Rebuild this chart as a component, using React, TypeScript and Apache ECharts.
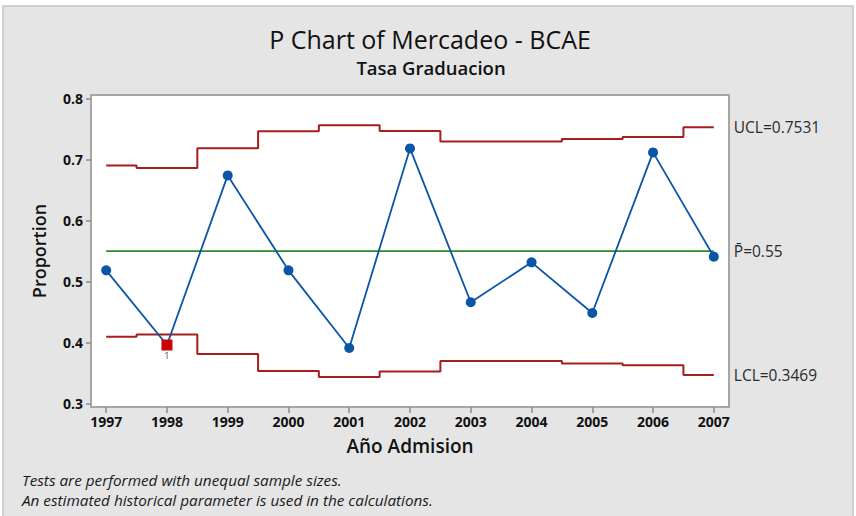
import React, { useEffect, useRef } from "react";
import * as echarts from "echarts";

const years = [1997, 1998, 1999, 2000, 2001, 2002, 2003, 2004, 2005, 2006, 2007];
const proportions = [0.5185, 0.396, 0.6743, 0.5185, 0.3911, 0.7185, 0.4661, 0.5316, 0.4485, 0.712, 0.541];
const ucl = [0.6904, 0.6866, 0.7189, 0.7467, 0.7566, 0.7473, 0.7301, 0.7301, 0.7342, 0.7372, 0.7531];
const lcl = [0.4096, 0.4134, 0.3811, 0.3533, 0.3434, 0.3527, 0.3699, 0.3699, 0.3658, 0.3628, 0.3469];
const centerP = 0.55;
const yTicks = [0.3, 0.4, 0.5, 0.6, 0.7, 0.8];
const flagged = [1998];

const title = "P Chart of Mercadeo - BCAE";
const subtitle = "Tasa Graduacion";
const xName = "Año Admision";
const yName = "Proportion";
const notes = [
  "Tests are performed with unequal sample sizes.",
  "An estimated historical parameter is used in the calculations.",
];

const FONT = "'Open Sans', 'Noto Sans', sans-serif";

export default function App() {
  const ref = useRef<HTMLDivElement>(null);
  useEffect(() => {
    if (!ref.current) return;
    const chart = echarts.init(ref.current, null, { renderer: "svg" });
    const red = "#a51d1d";
    const stepSeries = (name: string, vals: number[], label: string) => ({
      name,
      type: "line",
      step: "middle",
      symbol: "none",
      data: years.map((y, i) => [y, vals[i]]),
      lineStyle: { color: red, width: 2 },
      z: 3,
      endLabel: {
        show: true,
        formatter: label,
        distance: 20,
        color: "#2b2b2b",
        fontSize: 15.5,
        fontFamily: FONT,
      },
    });
    chart.setOption({
      animation: false,
      backgroundColor: "#ffffff",
      textStyle: { fontFamily: FONT },
      grid: {
        left: 91,
        right: 127,
        top: 95,
        bottom: 109,
        show: true,
        backgroundColor: "#ffffff",
        borderColor: "#a6a6a6",
        borderWidth: 2,
      },
      xAxis: {
        type: "value",
        min: 1996.75,
        max: 2007.25,
        splitLine: { show: false },
        axisLine: { show: false },
        axisTick: {
          show: true,
          length: 6,
          customValues: years,
          lineStyle: { color: "#8c8c8c", width: 1.5 },
        },
        axisLabel: {
          customValues: years,
          formatter: (v: number) => String(v),
          color: "#111",
          fontSize: 14,
          fontWeight: "bold",
          fontFamily: FONT,
          margin: 7,
        },
      },
      yAxis: {
        type: "value",
        min: 0.2943,
        max: 0.8062,
        splitLine: { show: false },
        axisLine: { show: false },
        axisTick: {
          show: true,
          length: 5,
          customValues: yTicks,
          lineStyle: { color: "#8c8c8c", width: 1.5 },
        },
        axisLabel: {
          customValues: yTicks,
          formatter: (v: number) => v.toFixed(1),
          color: "#111",
          fontSize: 14,
          fontWeight: "bold",
          fontFamily: FONT,
          margin: 8,
        },
      },
      graphic: [
        {
          type: "rect",
          z: -10,
          shape: { x: 3, y: 6, width: 850, height: 520 },
          style: { fill: "#e5e5e5", stroke: "#c4c4c4", lineWidth: 1.5 },
        },
        {
          type: "text",
          x: 430,
          y: 39,
          z: 10,
          style: { text: title, font: `400 25px ${FONT}`, fill: "#111", align: "center", verticalAlign: "middle" },
        },
        {
          type: "text",
          x: 431,
          y: 67,
          z: 10,
          style: { text: subtitle, font: `600 18.5px ${FONT}`, fill: "#111", align: "center", verticalAlign: "middle" },
        },
        {
          type: "text",
          x: 410,
          y: 446,
          z: 10,
          style: { text: xName, font: `600 19px ${FONT}`, fill: "#111", align: "center", verticalAlign: "middle" },
        },
        {
          type: "text",
          x: 39,
          y: 251,
          rotation: Math.PI / 2,
          z: 10,
          style: { text: yName, font: `600 18px ${FONT}`, fill: "#111", align: "center", verticalAlign: "middle" },
        },
        ...notes.map((t, i) => ({
          type: "text",
          x: 22,
          y: 480 + i * 20,
          z: 10,
          style: { text: t, font: `italic 400 15.3px ${FONT}`, fill: "#1a1a1a", align: "left", verticalAlign: "middle" },
        })),
      ],
      series: [
        stepSeries("UCL", ucl, "UCL=0.7531"),
        stepSeries("LCL", lcl, "LCL=0.3469"),
        {
          name: "P",
          type: "line",
          symbol: "none",
          data: years.map((y) => [y, centerP]),
          lineStyle: { color: "#2a8a2a", width: 1.8 },
          z: 3,
          endLabel: {
            show: true,
            formatter: "P\u0304=0.55",
            distance: 20,
            color: "#2b2b2b",
            fontSize: 15.5,
            fontFamily: FONT,
          },
        },
        {
          name: "Proportion",
          type: "line",
          symbol: "circle",
          symbolSize: 10,
          data: years.map((y, i) =>
            flagged.includes(y)
              ? {
                  value: [y, proportions[i]],
                  symbol: "rect",
                  symbolSize: 11,
                  itemStyle: { color: "#cc0000" },
                  label: {
                    show: true,
                    position: "bottom",
                    distance: 0,
                    formatter: "1",
                    fontSize: 9,
                    color: "#3a4a6a",
                  },
                }
              : [y, proportions[i]]
          ),
          itemStyle: { color: "#0a55a6" },
          lineStyle: { color: "#0a55a6", width: 1.8 },
          z: 5,
        },
      ],
    });
    return () => chart.dispose();
  }, []);
  return (
    <div
      ref={ref}
      style={{ position: "fixed", left: 0, top: 0, width: 856, height: 516 }}
    />
  );
}
